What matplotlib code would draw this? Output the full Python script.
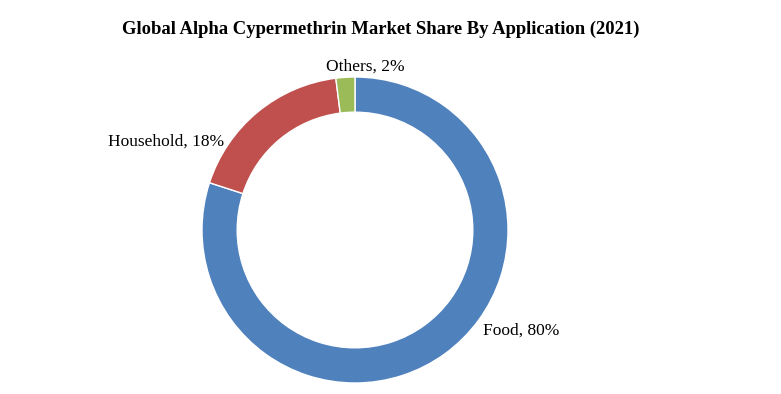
import matplotlib.pyplot as plt

plt.rcParams['font.family'] = ['Liberation Serif', 'DejaVu Serif']

categories = ["Food", "Household", "Others"]
shares = [80, 18, 2]
colors = ["#4F81BD", "#C0504D", "#9BBB59"]

# label anchor points, in units of the outer radius
label_pos = [(1.085, -0.655), (-1.235, 0.58), (0.07, 1.065)]

fig = plt.figure(figsize=(7.81, 3.94), dpi=100)
W, H = 781, 394
ax = fig.add_axes([202 / W, 11 / H, 306 / W, 306 / H])

ax.pie(shares, colors=colors, startangle=90, counterclock=False, radius=1.0,
       wedgeprops=dict(width=0.23, edgecolor="white", linewidth=1.0))
ax.set_xlim(-1, 1)
ax.set_ylim(-1, 1)
ax.set_aspect("equal")
ax.axis("off")

for name, val, (x, y) in zip(categories, shares, label_pos):
    ax.text(x, y, f"{name}, {val}%", ha="center", va="center", fontsize=12.5,
            clip_on=False)

fig.text(381 / W, 1 - 29 / H, "Global Alpha Cypermethrin Market Share By Application (2021)",
         ha="center", va="center", fontsize=13.4, fontweight="bold")

fig.savefig("out.png", dpi=100)
